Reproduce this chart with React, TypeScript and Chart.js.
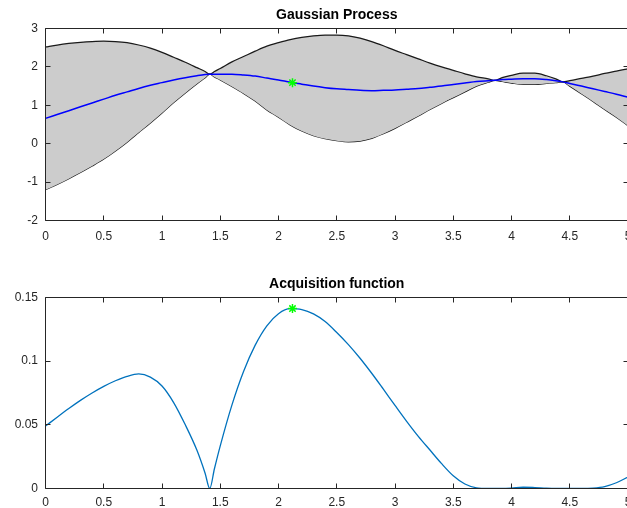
import { useEffect, useRef } from 'react';
import { Chart, registerables } from 'chart.js';

Chart.register(...registerables);

// ---- data ----
const xs = [0, 0.1, 0.2, 0.3, 0.4, 0.5, 0.6, 0.7, 0.8, 0.9, 1.0, 1.1, 1.2, 1.3, 1.37, 1.41, 1.45, 1.5, 1.6, 1.7, 1.8, 1.9, 2.0, 2.1, 2.2, 2.3, 2.4, 2.5, 2.6, 2.7, 2.8, 2.9, 3.0, 3.1, 3.2, 3.3, 3.4, 3.5, 3.6, 3.7, 3.8, 3.86, 3.92, 4.0, 4.1, 4.2, 4.3, 4.38, 4.44, 4.5, 4.6, 4.7, 4.8, 4.9, 5.0];

const gpUpper = [2.52, 2.57, 2.61, 2.64, 2.66, 2.67, 2.66, 2.63, 2.57, 2.49, 2.38, 2.25, 2.12, 1.98, 1.88, 1.81, 1.88, 1.96, 2.13, 2.27, 2.41, 2.54, 2.63, 2.71, 2.77, 2.81, 2.83, 2.83, 2.81, 2.75, 2.66, 2.55, 2.43, 2.32, 2.21, 2.10, 2.00, 1.91, 1.82, 1.74, 1.69, 1.65, 1.72, 1.78, 1.835, 1.835, 1.77, 1.69, 1.61, 1.64, 1.70, 1.76, 1.83, 1.89, 1.95];

const gpMean = [0.66, 0.76, 0.86, 0.96, 1.06, 1.16, 1.26, 1.35, 1.44, 1.52, 1.59, 1.66, 1.72, 1.77, 1.80, 1.81, 1.81, 1.81, 1.81, 1.79, 1.76, 1.71, 1.66, 1.60, 1.55, 1.50, 1.46, 1.43, 1.41, 1.39, 1.38, 1.39, 1.40, 1.42, 1.44, 1.47, 1.50, 1.54, 1.58, 1.62, 1.64, 1.65, 1.67, 1.68, 1.69, 1.69, 1.67, 1.64, 1.61, 1.57, 1.50, 1.43, 1.36, 1.29, 1.21];

const gpLower = [-1.20, -1.06, -0.91, -0.75, -0.58, -0.40, -0.19, 0.04, 0.29, 0.54, 0.80, 1.07, 1.32, 1.56, 1.72, 1.81, 1.74, 1.66, 1.49, 1.31, 1.11, 0.88, 0.69, 0.49, 0.33, 0.21, 0.13, 0.08, 0.05, 0.07, 0.14, 0.26, 0.40, 0.56, 0.72, 0.89, 1.05, 1.20, 1.35, 1.50, 1.60, 1.65, 1.62, 1.58, 1.545, 1.545, 1.57, 1.59, 1.61, 1.50, 1.30, 1.10, 0.89, 0.69, 0.47];

const acquisition = [0.049, 0.056, 0.0628, 0.0692, 0.075, 0.0802, 0.0846, 0.0881, 0.0900, 0.0875, 0.0805, 0.0675, 0.050, 0.030, 0.012, 0, 0.0155, 0.0335, 0.0655, 0.0919, 0.1126, 0.1278, 0.1373, 0.1412, 0.1405, 0.1371, 0.1311, 0.1225, 0.1130, 0.1023, 0.0905, 0.0780, 0.0653, 0.0528, 0.0410, 0.0302, 0.0195, 0.0100, 0.0035, 0.0005, 0, 0, 0, 0.0003, 0.001, 0.0007, 0.0002, 0, 0, 0, 0, 0.0003, 0.0015, 0.0045, 0.009];

const nextX = [2.12];
const nextGpY = [1.59];
const nextAcqY = [0.1413];

const xTicks = [0, 0.5, 1, 1.5, 2, 2.5, 3, 3.5, 4, 4.5, 5];
const gpYTicks = [-2, -1, 0, 1, 2, 3];
const acqYTicks = [0, 0.05, 0.1, 0.15];
const titles = ['Gaussian Process', 'Acquisition function'];

// ---- styling ----
const FONT = '"Liberation Sans", Arial, Helvetica, sans-serif';
const TEXT = '#262626';

const pts = (ys: number[]) => xs.map((x, i) => ({ x, y: ys[i] }));

const framePlugin = {
  id: 'frame',
  afterDraw(chart: any, _args: any, opts: any) {
    const { ctx, chartArea: a, scales } = chart;
    ctx.save();
    ctx.setLineDash([]);
    ctx.globalAlpha = 1;
    ctx.globalCompositeOperation = 'source-over';
    ctx.strokeStyle = TEXT;
    ctx.lineWidth = 1;
    const L = Math.floor(a.left) + 0.5;
    const T = Math.floor(a.top) + 0.5;
    const B = Math.floor(a.bottom) + 0.5;
    const R = Math.floor(a.right) + 0.5;
    ctx.beginPath();
    ctx.moveTo(L, T);
    ctx.lineTo(R, T);
    ctx.lineTo(R, B);
    ctx.lineTo(L, B);
    ctx.closePath();
    ctx.stroke();
    const tl = 5;
    ctx.beginPath();
    for (const t of scales.x.ticks) {
      const px = Math.floor(scales.x.getPixelForValue(t.value)) + 0.5;
      ctx.moveTo(px, B);
      ctx.lineTo(px, B - tl);
      ctx.moveTo(px, T);
      ctx.lineTo(px, T + tl);
    }
    for (const t of scales.y.ticks) {
      const py = Math.floor(scales.y.getPixelForValue(t.value)) + 0.5;
      ctx.moveTo(L, py);
      ctx.lineTo(L + tl, py);
      ctx.moveTo(R, py);
      ctx.lineTo(R - tl, py);
    }
    ctx.stroke();
    ctx.fillStyle = '#000';
    ctx.font = `bold 14px ${FONT}`;
    ctx.textAlign = 'center';
    ctx.textBaseline = 'middle';
    ctx.fillText(opts.title, (a.left + a.right) / 2, a.top - 13);
    ctx.restore();
  },
};

const fmt = (v: any) => String(Math.round(Number(v) * 1000) / 1000);

function makeOptions(
  yMin: number,
  yMax: number,
  yTicks: number[],
  title: string,
  padTop: number,
  xAxisHeight: number,
  xLabelPad: number
) {
  return {
    responsive: false,
    animation: false,
    devicePixelRatio: 1,
    layout: { padding: { left: 0, top: padTop, right: 32, bottom: 0 } },
    plugins: {
      legend: { display: false },
      tooltip: { enabled: false },
      title: { display: false },
      frame: { title },
    },
    elements: { point: { radius: 0 } },
    scales: {
      x: {
        type: 'linear',
        min: 0,
        max: 5,
        grid: { display: false, drawTicks: false },
        border: { display: false },
        afterBuildTicks: (s: any) => {
          s.ticks = xTicks.map((v) => ({ value: v }));
        },
        afterFit: (s: any) => {
          s.height = xAxisHeight;
        },
        ticks: {
          color: TEXT,
          font: { family: FONT, size: 12 },
          padding: xLabelPad,
          autoSkip: false,
          maxRotation: 0,
          callback: fmt,
        },
      },
      y: {
        type: 'linear',
        min: yMin,
        max: yMax,
        grid: { display: false, drawTicks: false },
        border: { display: false },
        afterBuildTicks: (s: any) => {
          s.ticks = yTicks.map((v) => ({ value: v }));
        },
        afterFit: (s: any) => {
          s.width = 45.5;
        },
        ticks: {
          color: TEXT,
          font: { family: FONT, size: 12 },
          padding: 7.5,
          autoSkip: false,
          callback: fmt,
        },
      },
    },
  };
}

export default function App() {
  const topRef = useRef<HTMLCanvasElement>(null);
  const botRef = useRef<HTMLCanvasElement>(null);

  useEffect(() => {
    document.body.style.margin = '0';
    const top = new Chart(topRef.current as HTMLCanvasElement, {
      type: 'line',
      data: {
        datasets: [
          {
            data: nextX.map((x, i) => ({ x, y: nextGpY[i] })),
            showLine: false,
            pointStyle: 'star',
            pointRadius: 4.5,
            pointBorderColor: '#00ff00',
            pointBackgroundColor: '#00ff00',
            pointBorderWidth: 1.5,
          },
          {
            data: pts(gpMean),
            borderColor: '#0000ff',
            borderWidth: 1.5,
            cubicInterpolationMode: 'monotone',
            fill: false,
          },
          {
            data: pts(gpUpper),
            borderColor: '#1a1a1a',
            borderWidth: 1.25,
            backgroundColor: '#cccccc',
            cubicInterpolationMode: 'monotone',
            fill: '+1',
          },
          {
            data: pts(gpLower),
            borderColor: '#1a1a1a',
            borderWidth: 1.25,
            cubicInterpolationMode: 'monotone',
            fill: false,
          },
        ],
      },
      options: makeOptions(-2, 3, gpYTicks, titles[0], 28.5, 29.5, 9) as any,
      plugins: [framePlugin],
    });

    const bot = new Chart(botRef.current as HTMLCanvasElement, {
      type: 'line',
      data: {
        datasets: [
          {
            data: nextX.map((x, i) => ({ x, y: nextAcqY[i] })),
            showLine: false,
            pointStyle: 'star',
            pointRadius: 4.5,
            pointBorderColor: '#00ff00',
            pointBackgroundColor: '#00ff00',
            pointBorderWidth: 1.5,
          },
          {
            data: pts(acquisition),
            borderColor: '#0072BD',
            borderWidth: 1.3,
            cubicInterpolationMode: 'monotone',
            fill: false,
          },
        ],
      },
      options: makeOptions(0, 0.15, acqYTicks, titles[1], 47.5, 31.5, 6.5) as any,
      plugins: [framePlugin],
    });

    return () => {
      top.destroy();
      bot.destroy();
    };
  }, []);

  return (
    <div
      style={{
        position: 'fixed',
        left: 0,
        top: 0,
        width: 627,
        height: 508,
        overflow: 'hidden',
        background: '#ffffff',
      }}
    >
      <canvas ref={topRef} width={660} height={250} style={{ position: 'absolute', left: 0, top: 0 }} />
      <canvas ref={botRef} width={660} height={270} style={{ position: 'absolute', left: 0, top: 250 }} />
    </div>
  );
}
